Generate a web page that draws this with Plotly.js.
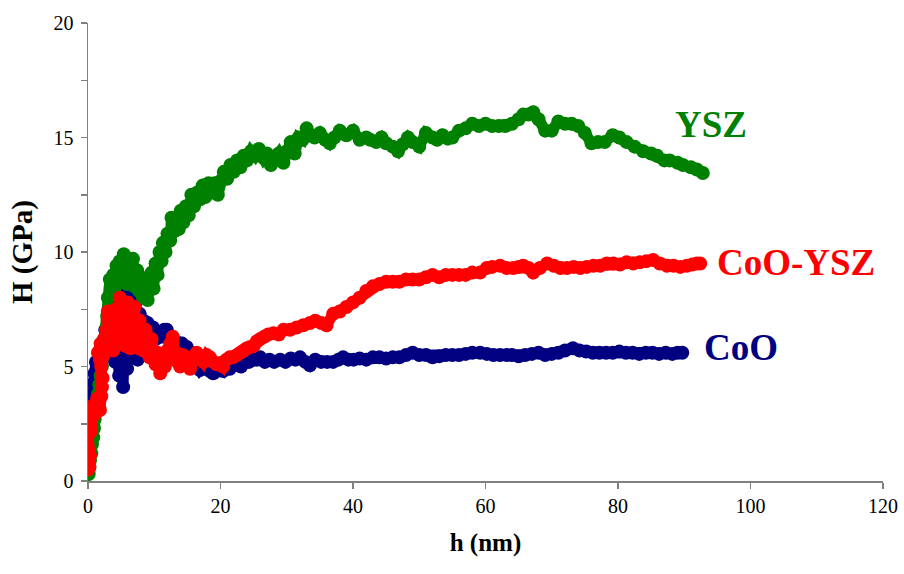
<!DOCTYPE html>
<html>
<head>
<meta charset="utf-8">
<script src="https://cdn.plot.ly/plotly-3.0.1.min.js"></script>
<style>html,body{margin:0;padding:0;background:#fff;}#chart{width:904px;height:574px;}</style>
</head>
<body>
<div id="chart"></div>
<script>
// CoO (navy)
const coo_h = [0.0,0.1,0.0,0.2,0.3,0.5,0.6,0.8,0.9,1.0,1.2,1.4,1.6,1.8,2.0,2.3,2.6,2.9,3.2,3.5,3.8,4.1,4.4,4.7,5.0,5.3,5.6,5.9,6.1,6.3,6.6,6.9,7.2,7.5,7.8,8.1,8.4,8.7,9.0,9.4,9.8,10.2,10.6,11.0,11.5,11.9,12.3,12.8,13.2,13.7,14.2,14.9,15.5,16.0,16.5,16.9,17.4,17.9,18.4,18.9,19.4,19.9,20.4,20.9,21.4,21.9,22.5,23.1,23.7,24.3,24.9,25.5,26.0,26.7,27.4,28.1,29.0,29.8,30.6,31.3,32.0,32.8,33.5,34.3,35.2,36.1,37.0,37.8,38.5,39.3,40.1,41.0,42.0,43.0,44.0,45.0,46.0,47.0,48.0,49.0,50.0,51.0,52.0,53.0,54.0,55.0,56.0,57.0,58.0,59.2,60.2,61.2,62.2,63.2,64.0,65.0,66.0,67.0,68.0,69.0,70.0,71.0,72.0,73.2,74.2,75.2,76.2,77.2,78.2,79.2,80.2,81.2,82.2,83.2,84.2,85.2,86.2,87.2,88.2,89.0,89.7];
const coo_H = [0.5,1.0,1.3,1.8,2.3,2.8,3.3,3.8,4.3,4.7,5.2,4.5,5.6,4.9,6.0,5.4,6.6,5.8,7.0,6.2,7.6,5.2,6.8,4.6,7.9,4.1,8.6,4.9,9.0,9.35,8.4,5.5,7.8,5.3,7.3,6.0,7.0,6.4,6.9,6.3,6.7,6.2,6.5,6.3,6.6,6.6,6.2,6.0,6.1,5.9,6.0,5.85,5.6,5.3,5.0,4.85,5.0,4.9,4.8,4.7,4.8,4.9,4.8,5.0,4.9,5.05,5.1,5.0,5.2,5.2,5.3,5.3,5.4,5.2,5.3,5.2,5.3,5.2,5.35,5.3,5.4,5.2,5.05,5.3,5.2,5.2,5.2,5.3,5.4,5.3,5.3,5.35,5.3,5.4,5.4,5.35,5.4,5.4,5.5,5.6,5.5,5.5,5.4,5.45,5.5,5.5,5.5,5.55,5.6,5.6,5.55,5.5,5.5,5.5,5.5,5.45,5.5,5.55,5.6,5.5,5.55,5.6,5.7,5.8,5.7,5.65,5.6,5.6,5.6,5.6,5.65,5.6,5.6,5.55,5.6,5.6,5.55,5.6,5.55,5.6,5.6];

// YSZ (green)
const ysz_h = [0.1,0.2,0.3,0.5,0.6,0.8,0.9,1.0,1.2,1.3,1.5,1.7,1.9,2.1,2.3,2.5,2.7,2.9,3.0,3.3,3.5,3.8,4.0,4.3,4.5,4.8,5.0,5.4,5.6,5.9,6.2,6.5,6.8,7.0,7.4,7.7,8.0,8.3,8.6,9.0,9.3,9.6,9.9,10.2,10.5,10.8,11.1,11.3,11.7,12.0,12.4,12.6,13.0,13.4,13.7,14.0,14.4,14.8,15.2,15.6,16.0,16.5,16.9,17.3,17.7,18.2,18.6,19.1,19.6,20.0,20.5,21.0,21.5,22.0,22.5,23.0,23.5,24.0,24.6,25.2,25.8,26.5,27.0,27.6,28.2,28.8,29.5,30.0,30.6,31.2,31.8,32.4,33.0,33.6,34.2,35.0,35.8,36.5,37.2,38.0,39.0,40.0,41.0,42.0,42.6,43.5,44.3,45.0,46.0,46.8,47.5,48.3,49.0,50.0,51.0,52.0,52.7,53.5,54.3,55.0,56.0,57.0,58.0,59.0,60.0,61.0,62.0,63.0,64.0,65.0,65.7,66.5,67.2,68.0,69.0,70.0,71.0,72.0,73.0,74.0,75.0,76.0,77.0,78.0,79.2,80.2,81.3,82.5,83.8,85.0,85.9,87.0,87.8,89.0,89.8,91.0,91.9,92.8];
const ysz_H = [0.3,0.6,0.9,1.2,1.6,1.9,2.3,2.7,3.0,3.4,3.8,4.2,4.6,5.0,5.5,6.0,6.6,7.2,8.0,8.8,8.2,9.0,8.4,9.4,8.8,9.6,9.1,9.9,9.3,8.6,9.5,8.9,9.7,8.5,9.2,8.3,8.9,8.0,8.7,7.9,8.6,9.1,8.4,9.5,9.0,10.0,9.6,10.4,10.0,10.8,10.5,11.5,10.9,11.5,11.0,11.8,11.3,12.0,11.6,12.5,12.0,12.6,12.3,12.9,12.4,13.0,12.6,13.0,12.5,13.1,13.5,13.2,13.8,13.5,14.0,13.7,14.2,14.0,14.4,14.2,14.5,14.1,14.3,13.8,14.0,14.3,13.9,14.4,14.8,14.3,15.0,14.9,15.4,15.1,15.0,15.2,14.9,14.75,15.0,15.3,15.1,15.3,14.9,15.0,14.9,14.8,15.0,14.75,14.6,14.4,14.7,15.0,14.8,14.6,15.2,15.0,14.9,15.1,14.95,15.0,15.3,15.4,15.6,15.5,15.6,15.5,15.5,15.5,15.6,15.8,16.0,16.0,16.1,15.8,15.3,15.3,15.7,15.6,15.6,15.5,15.2,14.75,14.8,14.8,15.1,15.0,14.8,14.6,14.4,14.3,14.2,14.0,14.0,13.9,13.8,13.7,13.6,13.45];

// CoO-YSZ (red)
const cooysz_h = [0.0,0.1,0.2,0.1,0.3,0.0,0.2,0.1,0.4,0.5,0.6,0.8,1.0,1.2,1.4,1.6,1.8,2.0,2.1,2.2,2.0,1.8,1.5,1.9,2.2,2.4,2.6,2.8,3.0,3.2,3.4,3.6,3.8,4.0,4.2,4.4,4.6,4.8,5.0,5.2,5.4,5.6,5.8,6.0,6.2,6.4,6.6,6.8,7.0,7.3,7.6,7.8,8.1,8.4,8.7,9.0,9.3,9.6,9.9,10.2,10.5,10.9,11.2,11.6,12.0,12.4,12.8,13.1,13.5,13.9,14.3,14.9,15.4,15.9,16.4,16.9,17.4,17.9,18.4,18.9,19.4,19.9,20.4,20.9,21.4,21.9,22.5,23.0,23.5,24.0,24.5,25.0,25.5,26.0,26.6,27.2,28.0,28.8,29.5,30.5,31.5,32.5,33.5,34.3,35.2,36.0,37.0,38.0,39.0,40.0,41.0,42.0,43.0,44.0,45.0,46.0,47.0,48.0,49.0,50.0,51.0,52.0,53.0,54.0,55.0,56.0,57.0,58.0,59.2,60.2,61.0,62.2,63.2,64.2,65.0,65.7,66.5,67.2,68.2,69.3,70.3,71.3,72.3,73.3,74.3,75.3,76.3,77.3,78.3,79.3,80.3,81.3,82.3,83.3,84.3,85.3,86.3,87.4,88.4,89.4,90.4,91.2,91.9,92.4];
const cooysz_H = [0.5,0.9,0.6,1.3,1.1,2.0,2.7,3.2,2.6,2.2,3.0,3.3,2.9,3.2,3.6,3.4,3.1,3.7,4.1,4.5,5.0,5.3,5.6,6.0,5.4,6.2,5.8,6.6,7.4,6.8,6.1,7.1,5.7,6.5,7.5,6.9,6.0,8.0,7.2,6.4,7.7,5.9,7.0,7.8,6.6,5.8,7.3,6.2,7.6,6.5,5.8,7.0,6.3,5.7,6.6,5.9,5.4,6.2,5.5,5.1,5.6,4.7,5.3,5.0,5.7,6.0,6.3,5.6,5.2,5.0,5.5,5.4,4.9,5.3,5.6,5.4,5.2,5.5,5.4,5.2,5.1,5.15,5.0,5.3,5.4,5.4,5.5,5.6,5.7,5.8,5.85,5.9,6.1,6.2,6.3,6.4,6.45,6.4,6.6,6.6,6.7,6.8,6.9,7.0,6.9,6.8,7.3,7.4,7.6,7.8,8.0,8.3,8.5,8.6,8.7,8.7,8.7,8.8,8.8,8.8,8.9,9.0,8.9,9.0,9.0,9.0,9.0,9.1,9.1,9.3,9.35,9.4,9.3,9.3,9.35,9.4,9.3,9.1,9.3,9.5,9.4,9.3,9.3,9.35,9.3,9.35,9.4,9.4,9.5,9.5,9.45,9.55,9.5,9.55,9.6,9.65,9.5,9.4,9.4,9.35,9.4,9.45,9.5,9.5];

const seriesNames = ['CoO', 'YSZ', 'CoO-YSZ'];
const seriesColors = ['#000080', '#008000', '#FF0000'];
const xTicks = [0, 20, 40, 60, 80, 100, 120];
const yTicks = [0, 5, 10, 15, 20];

const font = '"Liberation Serif", "Times New Roman", Times, serif';
const xs = [coo_h, ysz_h, cooysz_h];
const ys = [coo_H, ysz_H, cooysz_H];
const traces = xs.map((x, i) => ({
  x: x, y: ys[i], type: 'scatter', mode: 'lines+markers', name: seriesNames[i],
  line: {color: seriesColors[i], width: 11},
  marker: {color: seriesColors[i], size: 14, line: {width: 0}},
  hoverinfo: 'skip'
}));

const labelPos = {
  'YSZ': [94.1, 15.55],
  'CoO-YSZ': [106.9, 9.56],
  'CoO': [98.6, 5.85]
};
const annotations = seriesNames.map((n, i) => ({
  x: labelPos[n][0], y: labelPos[n][1], xref: 'x', yref: 'y',
  text: '<b>' + n + '</b>', showarrow: false,
  font: {family: font, size: 37, color: seriesColors[i]},
  xanchor: 'center', yanchor: 'middle'
}));

const layout = {
  width: 904, height: 574,
  margin: {l: 88, r: 21, t: 23, b: 93},
  paper_bgcolor: '#ffffff', plot_bgcolor: '#ffffff',
  showlegend: false,
  font: {family: font, size: 20, color: '#000000'},
  xaxis: {
    range: [0, 120], tickvals: xTicks, ticktext: xTicks.map(String),
    showgrid: false, zeroline: false, showline: true, linecolor: '#808080', linewidth: 1.5,
    ticks: 'outside', ticklen: 6, tickwidth: 1.5, tickcolor: '#808080',
    tickfont: {family: font, size: 20, color: '#000'},
    title: {text: '<b>h (nm)</b>', font: {family: font, size: 25, color: '#000'}, standoff: 18}
  },
  yaxis: {
    range: [0, 20], tickvals: yTicks, ticktext: yTicks.map(String),
    showgrid: false, zeroline: false, showline: true, linecolor: '#808080', linewidth: 1.5,
    ticks: 'outside', ticklen: 6, tickwidth: 1.5, tickcolor: '#808080',
    ticklabelstandoff: 3,
    minor: {dtick: 2.5, ticks: 'outside', ticklen: 6, tickwidth: 1.5, tickcolor: '#808080', showgrid: false},
    tickfont: {family: font, size: 20, color: '#000'},
    title: {text: '<b>H (GPa)</b>', font: {family: font, size: 29, color: '#000'}, standoff: 12}
  },
  annotations: annotations
};

Plotly.newPlot('chart', traces, layout, {displayModeBar: false, staticPlot: true});
</script>
</body>
</html>
